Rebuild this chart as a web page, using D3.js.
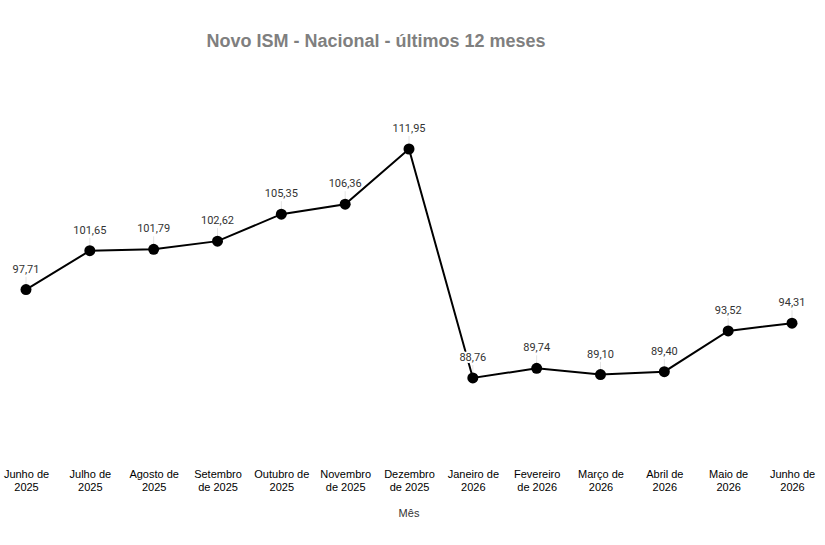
<!DOCTYPE html>
<html>
<head>
<meta charset="utf-8">
<script src="https://cdn.jsdelivr.net/npm/d3@7"></script>
<style>
  body { margin: 0; background: #fff; }
  svg { display: block; }
</style>
</head>
<body>
<svg id="chart" width="825" height="545"></svg>
<script>
'use strict';

const months = [
  ['Junho de', '2025'], ['Julho de', '2025'], ['Agosto de', '2025'],
  ['Setembro', 'de 2025'], ['Outubro de', '2025'], ['Novembro', 'de 2025'],
  ['Dezembro', 'de 2025'], ['Janeiro de', '2026'], ['Fevereiro', 'de 2026'],
  ['Março de', '2026'], ['Abril de', '2026'], ['Maio de', '2026'],
  ['Junho de', '2026'],
];
const values = [97.71, 101.65, 101.79, 102.62, 105.35, 106.36, 111.95,
  88.76, 89.74, 89.10, 89.40, 93.52, 94.31];

const svg = d3.select('#chart');
const fmt = (v) => v.toFixed(2).replace('.', ',');

const x = d3.scalePoint()
  .domain(d3.range(months.length))
  .range([26, 792]);

const y = d3.scaleLinear()
  .domain([85, 115])
  .range([415.1, 118.9]);

// title
svg.append('text')
  .attr('x', 376)
  .attr('y', 47)
  .attr('text-anchor', 'middle')
  .attr('font-family', 'Liberation Sans, Arial, sans-serif')
  .attr('font-weight', 'bold')
  .attr('font-size', 18)
  .attr('fill', '#7f7f7f')
  .text('Novo ISM - Nacional - últimos 12 meses');

// x axis labels (two lines each)
const xAxis = d3.axisBottom(x).tickSize(0).tickFormat('');
const axisG = svg.append('g')
  .attr('transform', 'translate(0,462)')
  .call(xAxis);
axisG.select('.domain').remove();
axisG.selectAll('.tick')
  .append('text')
  .attr('text-anchor', 'middle')
  .attr('font-family', 'Liberation Sans, Arial, sans-serif')
  .attr('font-size', 11)
  .attr('fill', '#000')
  .each(function (d) {
    const t = d3.select(this);
    t.append('tspan').attr('x', 0).attr('y', 16).text(months[d][0]);
    t.append('tspan').attr('x', 0).attr('y', 29).text(months[d][1]);
  });

svg.append('text')
  .attr('x', 409)
  .attr('y', 517)
  .attr('text-anchor', 'middle')
  .attr('font-family', 'Liberation Sans, Arial, sans-serif')
  .attr('font-size', 11)
  .attr('fill', '#333')
  .text('Mês');

// leader lines
svg.append('g')
  .selectAll('line')
  .data(values)
  .join('line')
  .attr('x1', (d, i) => x(i))
  .attr('x2', (d, i) => x(i))
  .attr('y1', (d) => y(d) - 13)
  .attr('y2', (d) => y(d) - 5)
  .attr('stroke', '#e4e4e4')
  .attr('stroke-width', 1);

// line
const line = d3.line()
  .x((d, i) => x(i))
  .y((d) => y(d));

svg.append('path')
  .datum(values)
  .attr('d', line)
  .attr('fill', 'none')
  .attr('stroke', '#000')
  .attr('stroke-width', 2);

// points
svg.append('g')
  .selectAll('circle')
  .data(values)
  .join('circle')
  .attr('cx', (d, i) => x(i))
  .attr('cy', (d) => y(d))
  .attr('r', 5.5)
  .attr('fill', '#000');

// data labels (white halo hides the line behind them)
svg.append('g')
  .selectAll('text')
  .data(values)
  .join('text')
  .attr('x', (d, i) => x(i))
  .attr('y', (d) => y(d) - 17)
  .attr('text-anchor', 'middle')
  .attr('font-family', 'Roboto, Open Sans, sans-serif')
  .attr('font-size', 11)
  .attr('fill', '#333')
  .attr('stroke', '#fff')
  .attr('stroke-width', 4)
  .attr('stroke-linejoin', 'round')
  .attr('paint-order', 'stroke')
  .text(fmt);
</script>
</body>
</html>
